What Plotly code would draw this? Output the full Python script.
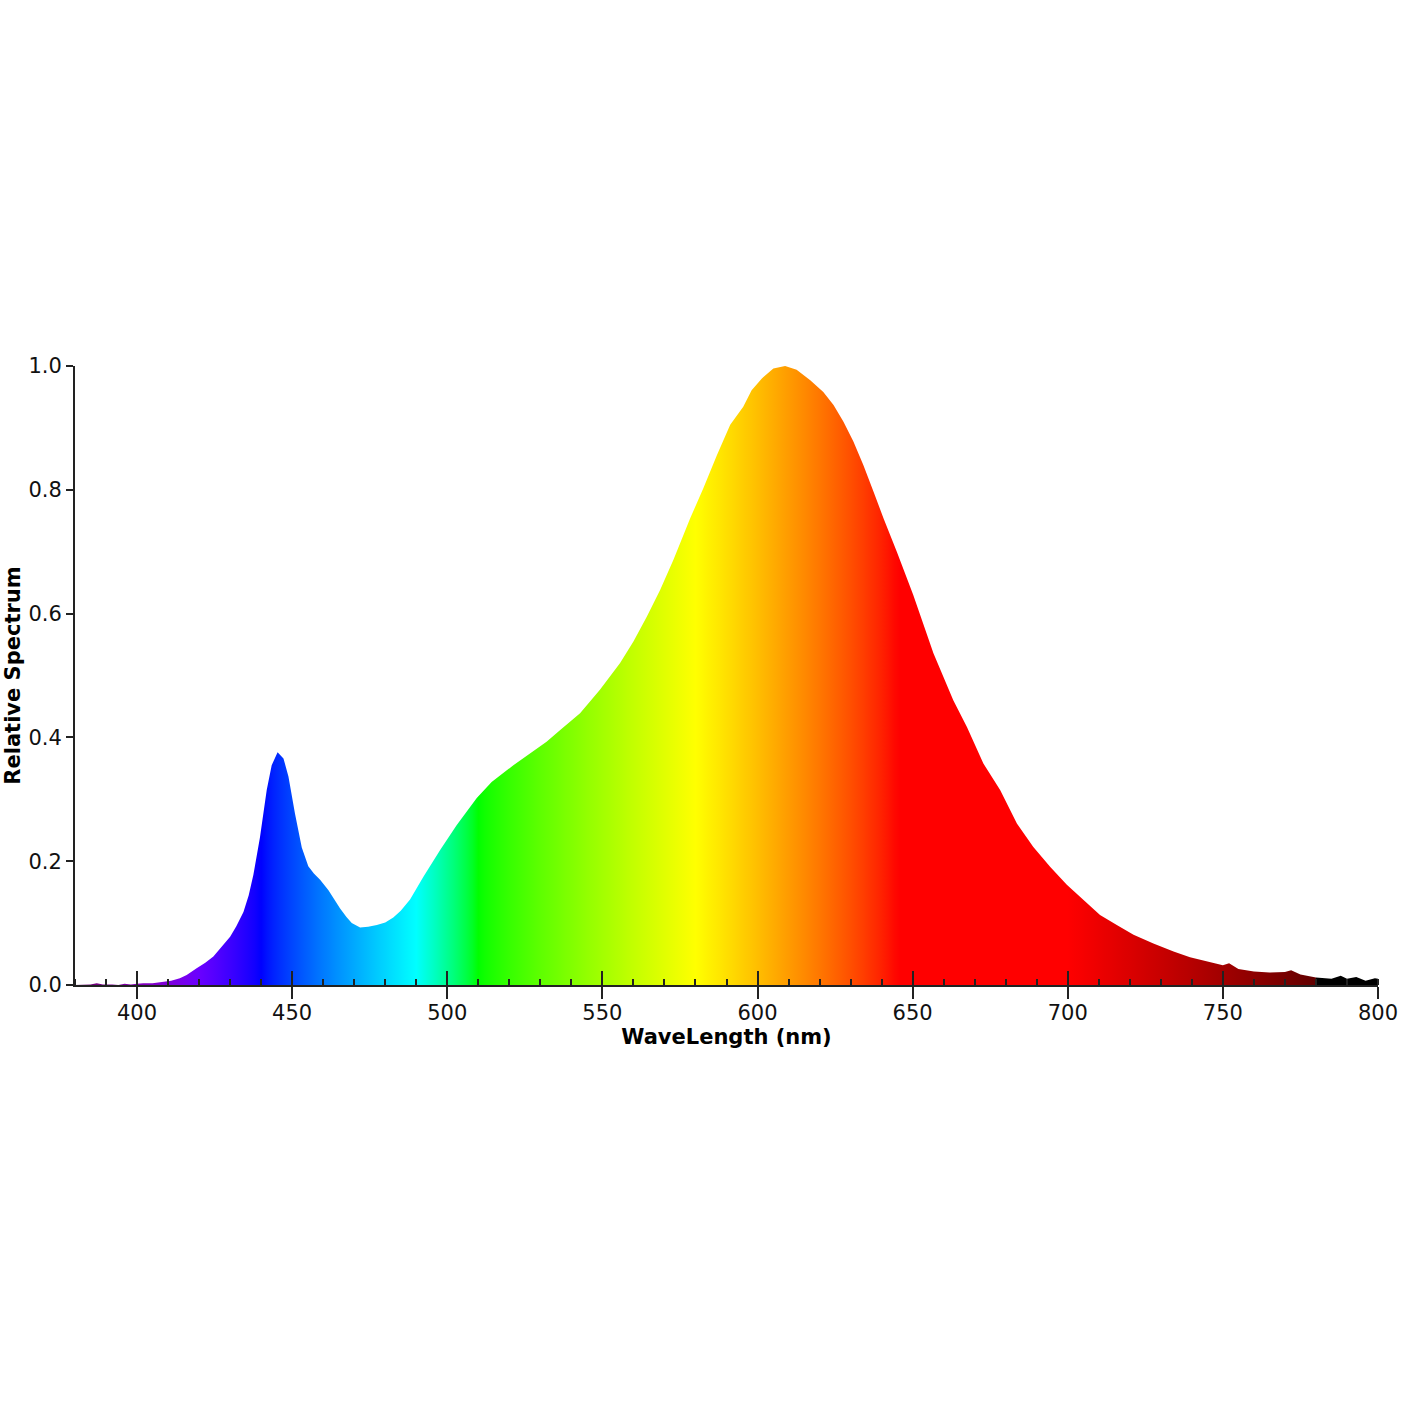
import plotly.graph_objects as go

# ---- data ----
wavelength = [380, 383, 385, 387, 389, 392, 394, 396, 398, 400, 402, 405, 408, 411, 413.8, 416, 419.2, 422,
              424.6, 427, 430, 432, 434.3, 436, 437.5, 439.6, 441.8, 443.4, 445.3, 447.2, 448.8, 450.9, 453.1,
              455.2, 457, 459, 461.7, 463.5, 465.4, 467.5, 469.2, 471.9, 474.5, 477.3, 480, 482.6, 485, 488,
              492.3, 497.7, 503, 509.5, 514.3, 521.3, 527.7, 532, 536.4, 542.8, 549.2, 555.7, 560, 564.3,
              568.6, 572.9, 578.3, 582.5, 586.9, 591.2, 595.4, 598.1, 601.4, 605.1, 608.9, 612.6, 617, 621.2,
              624.5, 627.7, 630.9, 634.1, 637.4, 640.6, 644.9, 650.2, 656.7, 663.1, 667.5, 672.8, 678.2, 683.6,
              688.9, 694.3, 699.7, 705.1, 710.4, 715.8, 721.2, 727.6, 734.1, 739.4, 745, 750, 752, 755, 760,
              765, 770, 772, 775, 780, 785, 788, 790, 793, 796, 799, 800]
relative = [0, 0, 0.001, 0.003, 0.001, 0.001, 0.0, 0.002, 0.001, 0.002, 0.003, 0.003, 0.005, 0.007, 0.011,
            0.016, 0.027, 0.036, 0.046, 0.060, 0.078, 0.095, 0.118, 0.145, 0.178, 0.238, 0.315, 0.355, 0.376,
            0.366, 0.337, 0.277, 0.222, 0.192, 0.180, 0.170, 0.153, 0.139, 0.124, 0.110, 0.100, 0.093, 0.094,
            0.097, 0.101, 0.109, 0.120, 0.138, 0.175, 0.218, 0.258, 0.302, 0.328, 0.355, 0.377, 0.393, 0.412,
            0.439, 0.477, 0.520, 0.555, 0.595, 0.638, 0.687, 0.754, 0.802, 0.856, 0.905, 0.934, 0.961, 0.980,
            0.996, 1.0, 0.994, 0.977, 0.958, 0.937, 0.910, 0.878, 0.840, 0.797, 0.754, 0.700, 0.630, 0.536,
            0.460, 0.417, 0.358, 0.315, 0.261, 0.223, 0.191, 0.162, 0.137, 0.113, 0.097, 0.081, 0.067, 0.054,
            0.045, 0.038, 0.032, 0.035, 0.026, 0.022, 0.020, 0.021, 0.024, 0.017, 0.012, 0.010, 0.015, 0.010,
            0.013, 0.007, 0.011, 0.010]

x_tick_vals = [400, 450, 500, 550, 600, 650, 700, 750, 800]
y_tick_vals = [0.0, 0.2, 0.4, 0.6, 0.8, 1.0]
X_MIN, X_MAX = 380, 800


# ---- styling: visible-spectrum colour for a wavelength ----
def spectrum_rgb(w, gamma=0.8):
    if w < 440:
        r, g, b = (440 - w) / 60, 0.0, 1.0
    elif w < 490:
        r, g, b = 0.0, (w - 440) / 50, 1.0
    elif w < 510:
        r, g, b = 0.0, 1.0, (510 - w) / 20
    elif w < 580:
        r, g, b = (w - 510) / 70, 1.0, 0.0
    elif w < 645:
        r, g, b = 1.0, (645 - w) / 65, 0.0
    elif w <= 780:
        r, g, b = 1.0, 0.0, 0.0
    else:
        r, g, b = 0.0, 0.0, 0.0
    if w < 420:
        f = 0.3 + 0.7 * (w - 380) / 40
    elif w <= 700:
        f = 1.0
    elif w <= 780:
        f = 0.3 + 0.7 * (780 - w) / 80
    else:
        f = 0.0
    c = lambda v: int(round(255 * (v * f) ** gamma)) if v > 0 else 0
    return f"rgb({c(r)},{c(g)},{c(b)})"


stops = list(range(X_MIN, 781, 2)) + [780.01, X_MAX]
colorscale = [[(w - X_MIN) / (X_MAX - X_MIN), spectrum_rgb(w if w <= 780 else 781)] for w in stops]

fig = go.Figure()
fig.add_trace(go.Scatter(
    x=wavelength, y=relative, mode="lines", line=dict(width=0),
    fill="tozeroy",
    fillgradient=dict(type="horizontal", colorscale=colorscale, start=X_MIN, stop=X_MAX),
    hoverinfo="skip", showlegend=False,
))
# helper trace bound to the overlay axis that draws the inward halves of the major ticks
fig.add_trace(go.Scatter(
    x=wavelength, y=relative, mode="lines", line=dict(width=0), opacity=0,
    xaxis="x2", hoverinfo="skip", showlegend=False,
))

font_family = "DejaVu Sans"
axis_color = "#222222"

fig.update_layout(
    width=1420, height=1420,
    margin=dict(l=75, r=42, t=366, b=435, autoexpand=False),
    paper_bgcolor="white", plot_bgcolor="white",
    font=dict(family=font_family, size=21, color="#111111"),
    xaxis=dict(
        range=[X_MIN, X_MAX], tickvals=x_tick_vals, ticktext=[str(v) for v in x_tick_vals],
        ticks="outside", ticklen=12, tickwidth=2, tickcolor=axis_color,
        showline=True, linecolor=axis_color, linewidth=2, showgrid=False, zeroline=False,
        minor=dict(ticks="inside", dtick=10, tick0=0, ticklen=6, tickwidth=2, tickcolor=axis_color, showgrid=False),
        title=dict(text="<b>WaveLength (nm)</b>", font=dict(size=21, family=font_family, color="black"), standoff=2),
        tickfont=dict(size=21), automargin=False, ticklabelstandoff=-4,
    ),
    xaxis2=dict(
        range=[X_MIN, X_MAX], overlaying="x", side="bottom", anchor="y",
        tickvals=x_tick_vals, ticks="inside", ticklen=14, tickwidth=2, tickcolor=axis_color,
        showticklabels=False, showline=False, showgrid=False, zeroline=False,
    ),
    yaxis=dict(
        range=[0, 1.0], tickvals=y_tick_vals, tickformat=".1f",
        ticks="outside", ticklen=7, tickwidth=2, tickcolor=axis_color,
        showline=True, linecolor=axis_color, linewidth=2, showgrid=False, zeroline=False,
        title=dict(text="<b>Relative Spectrum</b>", font=dict(size=21, family=font_family, color="black"), standoff=2),
        tickfont=dict(size=21), automargin=False,
    ),
)

fig.write_html("out.html")
